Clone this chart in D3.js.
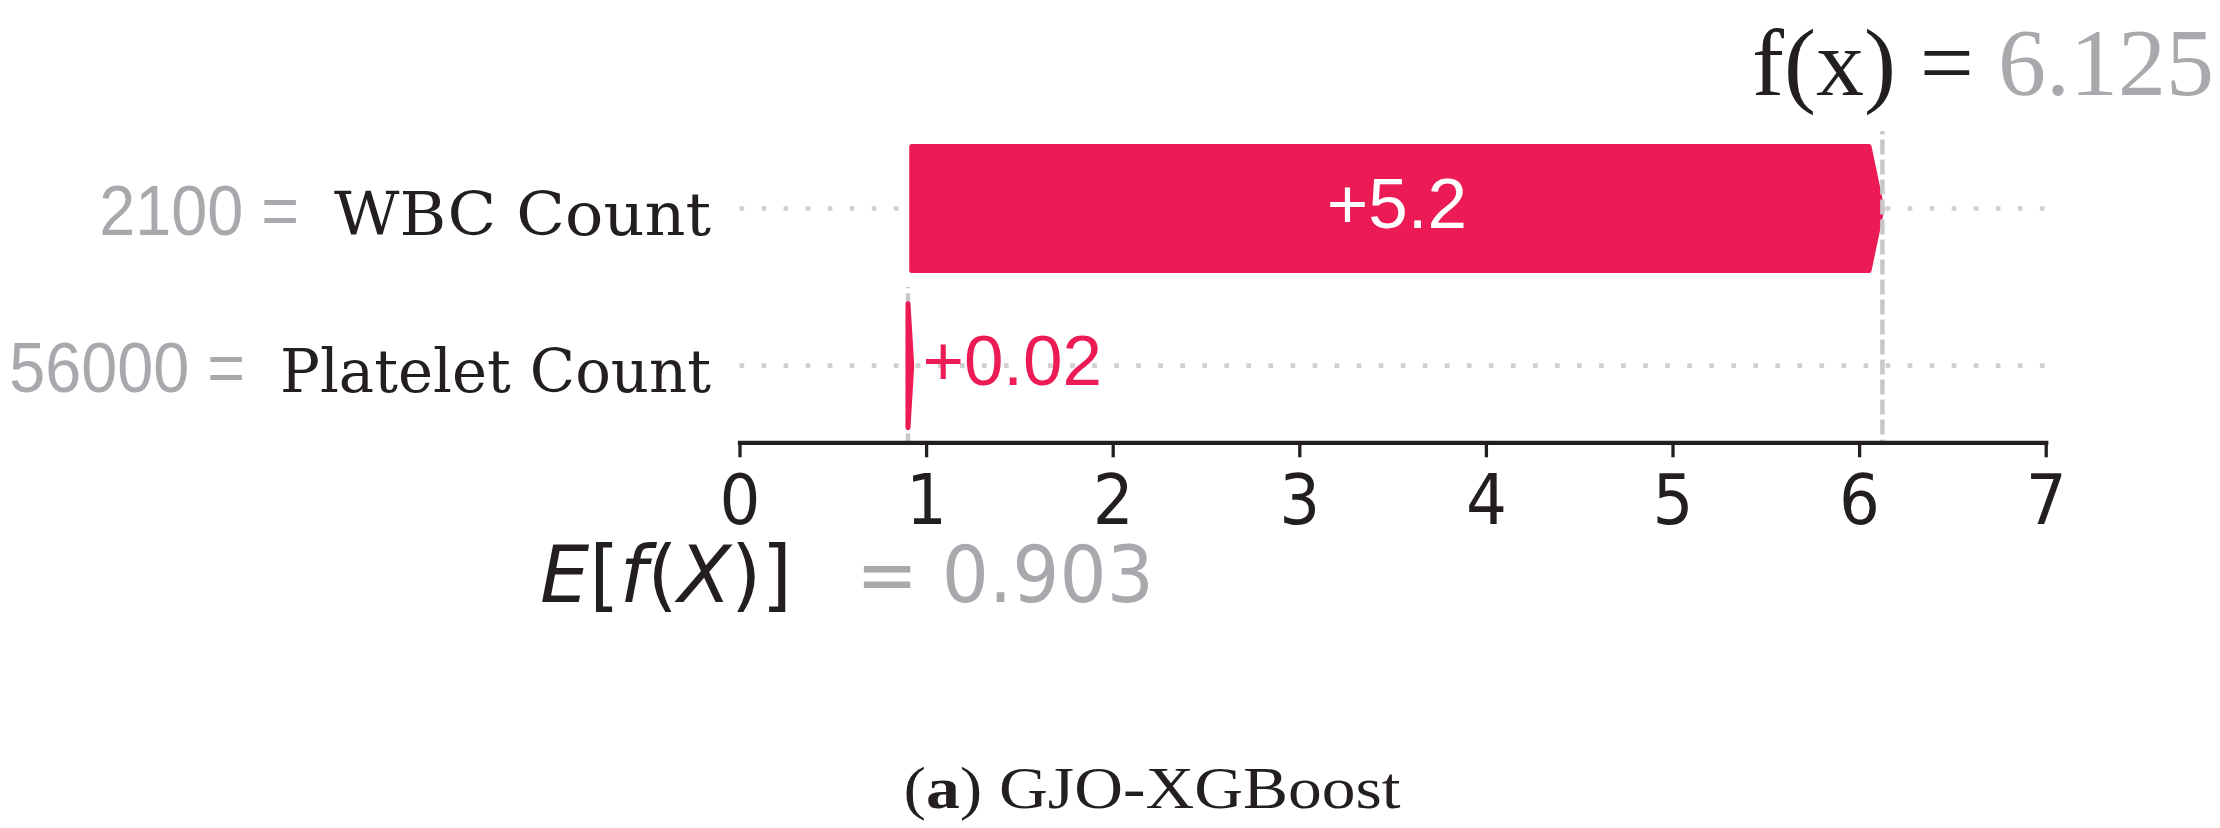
<!DOCTYPE html>
<html><head><meta charset="utf-8">
<script src="https://cdn.jsdelivr.net/npm/d3@7"></script>
<style>html,body{margin:0;padding:0;background:#fff;} svg{display:block}</style>
</head><body>
<svg id="chart" width="2220" height="828"></svg>
<script>
// ---------- data ----------
const features = ["WBC Count", "Platelet Count"];       // top to bottom
const featureValues = ["2100", "56000"];
const shapValues = [5.2, 0.02];
const baseValue = 0.903;   // E[f(X)]
const fxValue = 6.125;     // f(x)
const xTicks = [0, 1, 2, 3, 4, 5, 6, 7];
const xDomain = [0, 7];
const captionTag = "a";
const captionText = "GJO-XGBoost";

// ---------- layout / style ----------
const red = "#ec1b55", grey = "#a7a9ac", ink = "#231f20";
const lineGrey = "#c8c8c8", dotGrey = "#d0d0d0";
const svg = d3.select("#chart");
const x = d3.scaleLinear().domain(xDomain).range([739.5, 2045.7]);
const y = d3.scalePoint().domain(features).range([208.5, 365.7]);
const barH = 124, headLen = 13, axisY = 442.3;
const nameRight = 711, nameWidths = [377, 431];

function squeeze(sel, f) {
  sel.each(function () {
    const w = this.getComputedTextLength();
    d3.select(this).attr("textLength", w * f).attr("lengthAdjust", "spacingAndGlyphs");
  });
}

// cumulative bars (bottom feature first, starting from base value)
let acc = baseValue;
const bars = features.map((f, i) => i).reverse().map(i => {
  const s = acc; acc += shapValues[i];
  return { name: features[i], start: s, end: acc, v: shapValues[i] };
});

// dotted row guides
svg.append("g").selectAll("line").data(features).join("line")
  .attr("x1", x(xDomain[0])).attr("x2", x(xDomain[1]))
  .attr("y1", d => y(d)).attr("y2", d => y(d))
  .attr("stroke", dotGrey).attr("stroke-width", 4.7)
  .attr("stroke-dasharray", "4.7,17.34");

// E[f(X)] dashed line (below bars)
svg.append("line")
  .attr("x1", x(baseValue)).attr("x2", x(baseValue))
  .attr("y1", y(features[features.length - 1]) - barH / 2 - 16.7).attr("y2", axisY)
  .attr("stroke", lineGrey).attr("stroke-width", 4.5)
  .attr("stroke-dasharray", "15,5").attr("stroke-dashoffset", 13.7);

// bars as arrows
function arrowPath(x0, x1, yc, h, head) {
  const dir = Math.sign(x1 - x0) || 1;
  const hl = Math.min(head, Math.abs(x1 - x0));
  const xb = x1 - dir * hl;
  return `M${x0},${yc - h / 2}L${xb},${yc - h / 2}L${x1},${yc}L${xb},${yc + h / 2}L${x0},${yc + h / 2}Z`;
}
svg.append("g").selectAll("path").data(bars).join("path")
  .attr("d", d => arrowPath(x(d.start), x(d.end), y(d.name), barH, headLen))
  .attr("fill", red).attr("stroke", red).attr("stroke-width", 5)
  .attr("stroke-linejoin", "round");

// f(x) dashed line (above bars)
svg.append("line")
  .attr("x1", x(fxValue)).attr("x2", x(fxValue))
  .attr("y1", y(features[0]) - barH / 2 - 15.5).attr("y2", axisY)
  .attr("stroke", lineGrey).attr("stroke-width", 4.5)
  .attr("stroke-dasharray", "15,5").attr("stroke-dashoffset", 11.5);

// bar value labels
bars.forEach(d => {
  const label = (d.v > 0 ? "+" : "") + String(d.v);
  const t = svg.append("text").text(label)
    .attr("font-family", "Liberation Sans").attr("font-size", 71)
    .attr("y", y(d.name) + 19);
  const w = t.node().getComputedTextLength();
  const bw = Math.abs(x(d.end) - x(d.start));
  if (bw > w + 20) {
    t.attr("x", (x(d.start) + x(d.end)) / 2).attr("text-anchor", "middle").attr("fill", "#ffffff");
  } else {
    t.attr("x", x(d.end) + 10.7).attr("text-anchor", "start").attr("fill", red);
  }
});

// axis
const ax = svg.append("g").attr("transform", `translate(0,${axisY})`)
  .call(d3.axisBottom(x).tickValues(xTicks).tickSize(15).tickSizeOuter(0).tickFormat(d3.format("d")));
ax.attr("font-family", "DejaVu Sans").attr("font-size", 70);
ax.select(".domain").attr("stroke", ink).attr("stroke-width", 4.3).attr("stroke-linecap", "square");
ax.selectAll(".tick line").attr("stroke", ink).attr("stroke-width", 3.3);
const tickText = ax.selectAll(".tick text").attr("y", 82).attr("dy", null).attr("fill", ink);
squeeze(tickText, 0.92);

// feature labels
features.forEach((f, i) => {
  const yb = y(f) + 26.5;
  const start = nameRight - nameWidths[i];
  svg.append("text").attr("x", start).attr("y", yb)
    .attr("font-family", "DejaVu Serif").attr("font-size", 59).attr("fill", ink)
    .attr("textLength", nameWidths[i]).attr("lengthAdjust", "spacingAndGlyphs")
    .text(f);
  const v = svg.append("text").attr("y", yb)
    .attr("font-family", "Liberation Sans").attr("font-size", 70).attr("fill", grey)
    .text(featureValues[i] + " =");
  const w = v.node().getComputedTextLength() * 0.925;
  v.attr("textLength", w).attr("lengthAdjust", "spacingAndGlyphs")
    .attr("x", start - 35 - w);
});

// E[f(X)] = base
const eT = svg.append("text").attr("x", 540).attr("y", 602.3)
  .attr("font-family", "DejaVu Sans").attr("font-size", 78).attr("fill", ink);
const eStr = "E[f(X)]";
for (const c of eStr) eT.append("tspan").attr("font-style", /[EfX]/.test(c) ? "italic" : "normal").text(c);
const baseT = svg.append("text").attr("x", 856).attr("y", 602.3)
  .attr("font-family", "DejaVu Sans").attr("font-size", 78).attr("fill", grey)
  .text("= " + d3.format(".3f")(baseValue));
squeeze(baseT, 0.95);

// f(x) = value
const fT = svg.append("text").attr("x", 2214).attr("y", 95).attr("text-anchor", "end")
  .attr("font-family", "Liberation Serif").attr("font-size", 96);
fT.append("tspan").attr("fill", ink).text("f(x) = ");
fT.append("tspan").attr("fill", grey).text(d3.format(".3f")(fxValue));

// caption
const cT = svg.append("text").attr("x", 903.5).attr("y", 808)
  .attr("font-family", "Liberation Serif").attr("font-size", 59).attr("fill", ink)
  .attr("textLength", 497).attr("lengthAdjust", "spacingAndGlyphs");
cT.append("tspan").text("(");
cT.append("tspan").attr("font-weight", "bold").text(captionTag);
cT.append("tspan").text(") " + captionText);
</script>
</body></html>
